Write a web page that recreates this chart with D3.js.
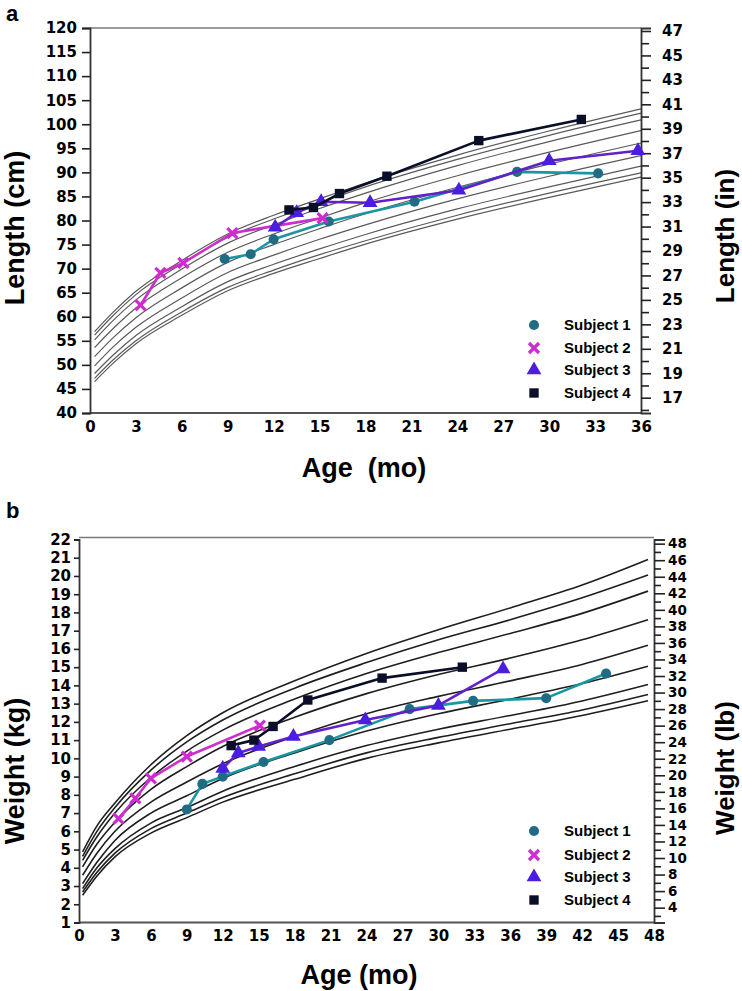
<!DOCTYPE html>
<html><head><meta charset="utf-8">
<script src="https://cdn.jsdelivr.net/npm/d3@7"></script>
<style>
body{margin:0;background:#fff}
svg{display:block}
text{font-family:"Liberation Sans",Arial,sans-serif;font-weight:bold;fill:#000}
.tk{font-family:"DejaVu Sans",sans-serif;font-weight:bold}
</style>
</head><body>
<svg id="c" width="742" height="991"></svg>
<script>
// ---------- Panel a: length-for-age percentile curves ----------
const lengthAges = [0.3, 1.5, 3, 6, 9, 12, 15, 18, 24, 30, 36];
const lengthP3  = [46.5, 50.3, 54.4, 60.3, 65.4, 69.0, 72.1, 75.1, 80.3, 84.8, 89.0];
const lengthP5  = [47.2, 51.0, 55.0, 61.0, 66.1, 69.7, 72.9, 75.8, 81.1, 85.7, 89.9];
const lengthP10 = [48.2, 52.0, 56.1, 62.1, 67.3, 70.9, 74.1, 77.1, 82.4, 87.0, 91.3];
const lengthP25 = [49.8, 53.7, 57.8, 63.9, 69.2, 72.8, 76.1, 79.1, 84.5, 89.2, 93.5];
const lengthP50 = [51.7, 55.6, 59.8, 66.0, 71.3, 75.0, 78.3, 81.4, 86.9, 91.7, 96.1];
const lengthP75 = [53.6, 57.5, 61.8, 68.1, 73.4, 77.2, 80.5, 83.7, 89.3, 94.2, 98.7];
const lengthP90 = [55.2, 59.2, 63.5, 69.9, 75.3, 79.1, 82.5, 85.7, 91.4, 96.4, 100.9];
const lengthP95 = [56.2, 60.2, 64.6, 71.0, 76.5, 80.3, 83.7, 87.0, 92.7, 97.7, 102.3];
const lengthP97 = [56.9, 60.9, 65.3, 71.7, 77.2, 81.1, 84.5, 87.8, 93.6, 98.6, 103.2];

// ---------- Panel b: weight-for-age percentile curves ----------
const weightAges = [0.3, 1.5, 3, 6, 9, 12, 18, 24, 30, 36, 42, 47.5];
const weightP3  = [2.49, 3.55, 4.6, 5.9, 6.75, 7.6, 8.85, 10.0, 10.85, 11.6, 12.35, 13.16];
const weightP5  = [2.67, 3.75, 4.8, 6.15, 7.0, 7.85, 9.15, 10.3, 11.15, 11.9, 12.65, 13.5];
const weightP10 = [2.86, 4.0, 5.05, 6.45, 7.3, 8.2, 9.55, 10.7, 11.6, 12.35, 13.15, 14.05];
const weightP25 = [3.13, 4.3, 5.5, 7.0, 7.95, 8.9, 10.3, 11.5, 12.45, 13.25, 14.1, 15.05];
const weightP50 = [3.59, 4.8, 6.0, 7.6, 8.7, 9.7, 11.2, 12.45, 13.4, 14.25, 15.15, 16.2];
const weightP75 = [4.05, 5.3, 6.5, 8.3, 9.55, 10.65, 12.25, 13.55, 14.6, 15.5, 16.5, 17.6];
const weightP90 = [4.41, 5.7, 7.0, 8.95, 10.4, 11.55, 13.25, 14.65, 15.8, 16.85, 17.95, 19.17];
const weightP95 = [4.63, 6.0, 7.3, 9.35, 10.9, 12.1, 13.85, 15.25, 16.5, 17.6, 18.8, 20.05];
const weightP97 = [4.87, 6.3, 7.55, 9.65, 11.25, 12.5, 14.25, 15.75, 17.05, 18.25, 19.5, 20.9];

// ---------- Subjects ----------
const subjectNames = ["Subject 1", "Subject 2", "Subject 3", "Subject 4"];

const s1LenAge = [8.8, 10.5, 12.0, 15.6, 21.2, 27.9, 33.2];
const s1Len    = [72.0, 73.0, 76.1, 79.8, 83.9, 90.1, 89.8];
const s2LenAge = [3.3, 4.6, 6.1, 9.3, 15.2];
const s2Len    = [62.4, 69.1, 71.2, 77.4, 80.5];
const s3LenAge = [12.1, 13.5, 15.1, 18.3, 24.1, 30.0, 35.8];
const s3Len    = [78.6, 81.6, 83.9, 83.7, 86.3, 92.4, 94.5];
const s4LenAge = [13.0, 14.6, 16.3, 19.4, 25.4, 32.1];
const s4Len    = [82.2, 82.7, 85.6, 89.2, 96.6, 101.0];

const s1WtAge = [9.0, 10.3, 12.0, 15.4, 20.9, 27.6, 32.9, 39.0, 44.0];
const s1Wt    = [7.2, 8.6, 9.0, 9.8, 11.0, 12.7, 13.15, 13.3, 14.65];
const s2WtAge = [3.3, 4.7, 6.0, 9.0, 15.1];
const s2Wt    = [6.7, 7.8, 8.9, 10.1, 11.8];
const s3WtAge = [12.0, 13.3, 15.0, 17.9, 23.9, 30.0, 35.4];
const s3Wt    = [9.45, 10.3, 10.65, 11.2, 12.1, 12.9, 14.9];
const s4WtAge = [12.7, 14.6, 16.2, 19.1, 25.3, 32.0];
const s4Wt    = [10.7, 11.0, 11.75, 13.2, 14.4, 15.0];

// tick label arrays
const lenTicksCm = d3.range(40, 121, 5);
const lenTicksIn = d3.range(16, 48);
const ageTicksA = d3.range(0, 37, 3);
const wtTicksKg = d3.range(1, 23);
const wtTicksLb = d3.range(3, 49);
const ageTicksB = d3.range(0, 49, 3);

const subjectStyle = [
  {sym: "circle", fill: "#1f6c84", line: "#1a96a2"},
  {sym: "x", fill: "#cf2bd0", line: "#cc2fcc"},
  {sym: "triangle", fill: "#4a1de0", line: "#6320c8"},
  {sym: "square", fill: "#0a0e26", line: "#0a0e26"}
];

const svg = d3.select("#c");

function marker(g, type, x, y, color) {
  if (type === "x") {
    const s = 5;
    g.append("path")
      .attr("d", `M${x-s},${y-s}L${x+s},${y+s}M${x-s},${y+s}L${x+s},${y-s}`)
      .attr("stroke", color).attr("stroke-width", 3.2).attr("fill", "none");
  } else {
    const map = {circle: [d3.symbolCircle, 80], triangle: [d3.symbolTriangle, 95], square: [d3.symbolSquare, 88]};
    const [sym, size] = map[type];
    g.append("path").attr("d", d3.symbol(sym, size)())
      .attr("transform", `translate(${x},${y})`).attr("fill", color);
  }
}

function panel(cfg) {
  const g = svg.append("g");
  const {x, y, y2} = cfg;
  const [x0, x1] = x.range();
  const yb = y.range()[0], yt = cfg.frameTop;

  // frame
  g.append("line").attr("x1", x0).attr("x2", x1).attr("y1", yt).attr("y2", yt)
    .attr("stroke", "#7a7a7a").attr("stroke-width", 1.5);
  g.append("line").attr("x1", x0).attr("x2", x1).attr("y1", yb).attr("y2", yb)
    .attr("stroke", "#555").attr("stroke-width", 1.8);

  // percentile curves
  const line = d3.line().curve(d3.curveMonotoneX).x(d => x(d[0])).y(d => y(d[1]));
  cfg.curves.forEach(vals => {
    g.append("path").attr("d", line(cfg.ages.map((a, i) => [a, vals[i]])))
      .attr("fill", "none").attr("stroke", cfg.curveColor).attr("stroke-width", cfg.curveWidth);
  });

  // left axis
  const la = g.append("g").attr("transform", `translate(${x0},0)`)
    .call(d3.axisLeft(y).tickValues(cfg.leftTicks).tickSize(cfg.leftTickLen).tickPadding(cfg.leftPad).tickFormat(d3.format("d")));
  la.select(".domain").attr("stroke", "#333").attr("stroke-width", 1.8);
  la.selectAll(".tick line").attr("stroke", "#222").attr("stroke-width", 1.6);
  la.selectAll("text").attr("class", "tk").style("font-size", cfg.leftFont + "px").attr("fill", "#000");

  // right axis
  const ra = g.append("g").attr("transform", `translate(${x1},0)`)
    .call(d3.axisRight(y2).tickValues(cfg.rightTicks).tickSize(cfg.rightTickLen).tickPadding(cfg.rightPad)
      .tickFormat(d => cfg.rightLabel(d) ? d : ""));
  ra.select(".domain").attr("stroke", "#333").attr("stroke-width", 1.8);
  ra.selectAll(".tick line").attr("stroke", "#222").attr("stroke-width", 1.6)
    .attr("x2", d => cfg.rightLabel(d) ? cfg.rightTickLen : cfg.rightMinorLen);
  ra.selectAll("text").attr("class", "tk").style("font-size", cfg.rightFont + "px").attr("fill", "#000");

  // bottom tick labels
  const ba = g.append("g").attr("transform", `translate(0,${yb})`)
    .call(d3.axisBottom(x).tickValues(cfg.bottomTicks).tickSize(0).tickPadding(cfg.bottomPad));
  ba.select(".domain").remove();
  ba.selectAll("text").attr("class", "tk").style("font-size", cfg.bottomFont + "px").attr("fill", "#000");

  // subject series
  const lineS = d3.line().x(d => x(d[0])).y(d => y(d[1]));
  cfg.subjects.forEach((s, k) => {
    const pts = s.ages.map((a, i) => [a, s.vals[i]]);
    g.append("path").attr("d", lineS(pts)).attr("fill", "none")
      .attr("stroke", subjectStyle[k].line).attr("stroke-width", 2.6).attr("stroke-linejoin", "round");
    pts.forEach(p => marker(g, subjectStyle[k].sym, x(p[0]), y(p[1]), subjectStyle[k].fill));
  });

  // legend
  subjectNames.forEach((n, k) => {
    const ly = cfg.legendY[k];
    marker(g, subjectStyle[k].sym, cfg.legendX, ly, subjectStyle[k].fill);
    g.append("text").attr("x", cfg.legendX + 30).attr("y", ly + 5).style("font-size", "15px").text(n);
  });

  // titles
  g.append("text").attr("x", 6).attr("y", cfg.letterY).style("font-size", "22px").text(cfg.letter);
  g.append("text").attr("transform", `translate(${cfg.leftTitleX},${cfg.leftTitleY}) rotate(-90)`)
    .attr("text-anchor", "middle").style("font-size", "27px").text(cfg.leftTitle);
  g.append("text").attr("transform", `translate(${cfg.rightTitleX},${cfg.rightTitleY}) rotate(-90)`)
    .attr("text-anchor", "middle").style("font-size", "26px").text(cfg.rightTitle);
  g.append("text").attr("x", cfg.ageTitleX).attr("y", cfg.ageTitleY).attr("text-anchor", "middle")
    .style("font-size", "27px").style("white-space", "pre").text(cfg.ageTitle);
}

// Panel a
const xA = d3.scaleLinear([0, 36], [90, 641]);
const yA = d3.scaleLinear([40, 120], [413, 28]);
const yAin = d3.scaleLinear([40 / 2.54, 120 / 2.54], [413, 28]);
panel({
  x: xA, y: yA, y2: yAin, frameTop: 28,
  ages: lengthAges,
  curves: [lengthP3, lengthP5, lengthP10, lengthP25, lengthP50, lengthP75, lengthP90, lengthP95, lengthP97],
  curveColor: "#5a5a5a", curveWidth: 1.2,
  leftTicks: lenTicksCm, leftTickLen: 8, leftPad: 5, leftFont: 15,
  rightTicks: lenTicksIn, rightTickLen: 10, rightMinorLen: 8, rightPad: 11, rightFont: 15,
  rightLabel: d => d % 2 === 1,
  bottomTicks: ageTicksA, bottomPad: 8, bottomFont: 15,
  subjects: [
    {ages: s1LenAge, vals: s1Len}, {ages: s2LenAge, vals: s2Len},
    {ages: s3LenAge, vals: s3Len}, {ages: s4LenAge, vals: s4Len}
  ],
  legendX: 534, legendY: [325, 348, 370, 393],
  letter: "a", letterY: 21,
  leftTitle: "Length (cm)", leftTitleX: 24, leftTitleY: 228,
  rightTitle: "Length (in)", rightTitleX: 734, rightTitleY: 236,
  ageTitle: "Age  (mo)", ageTitleX: 364, ageTitleY: 477
});

// Panel b
const xB = d3.scaleLinear([0, 48], [79, 654]);
const yB = d3.scaleLinear([1, 22], [922.5, 539.5]);
const yBlb = d3.scaleLinear([1 * 2.20462, 22 * 2.20462], [922.5, 539.5]);
panel({
  x: xB, y: yB, y2: yBlb, frameTop: 537.5,
  ages: weightAges,
  curves: [weightP3, weightP5, weightP10, weightP25, weightP50, weightP75, weightP90, weightP95, weightP97],
  curveColor: "#1e1e1e", curveWidth: 1.6,
  leftTicks: wtTicksKg, leftTickLen: 5, leftPad: 3, leftFont: 15,
  rightTicks: wtTicksLb, rightTickLen: 11, rightMinorLen: 7, rightPad: 3, rightFont: 13.5,
  rightLabel: d => d % 2 === 0 && d >= 4,
  bottomTicks: ageTicksB, bottomPad: 8, bottomFont: 15,
  subjects: [
    {ages: s1WtAge, vals: s1Wt}, {ages: s2WtAge, vals: s2Wt},
    {ages: s3WtAge, vals: s3Wt}, {ages: s4WtAge, vals: s4Wt}
  ],
  legendX: 534, legendY: [831, 855, 877, 900],
  letter: "b", letterY: 518,
  leftTitle: "Weight (kg)", leftTitleX: 24, leftTitleY: 771,
  rightTitle: "Weight (lb)", rightTitleX: 734, rightTitleY: 768,
  ageTitle: "Age (mo)", ageTitleX: 359, ageTitleY: 984
});
</script>
</body></html>
